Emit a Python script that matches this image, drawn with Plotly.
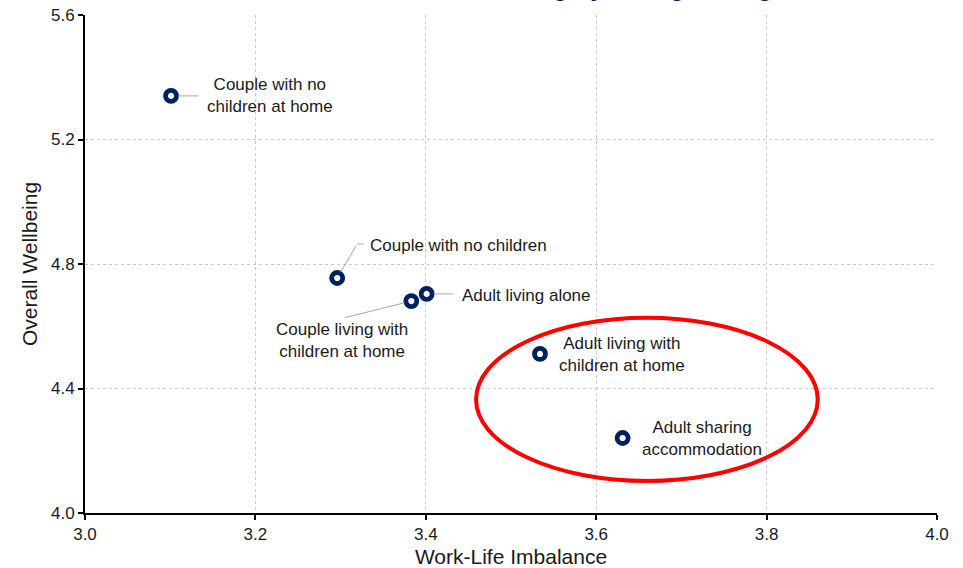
import plotly.graph_objects as go

# ---- data ----
groups = [
    "Couple with no children at home",
    "Couple with no children",
    "Adult living alone",
    "Couple living with children at home",
    "Adult living with children at home",
    "Adult sharing accommodation",
]
label_texts = [
    "Couple with no<br>children at home",
    "Couple with no children",
    "Adult living alone",
    "Couple living with<br>children at home",
    "Adult living with<br>children at home",
    "Adult sharing<br>accommodation",
]
work_life_imbalance = [3.101, 3.296, 3.401, 3.383, 3.534, 3.631]
overall_wellbeing = [5.340, 4.755, 4.704, 4.681, 4.511, 4.241]
x_ticks = [3.0, 3.2, 3.4, 3.6, 3.8, 4.0]
y_ticks = [4.0, 4.4, 4.8, 5.2, 5.6]
highlight_x = [3.459, 3.860]
highlight_y = [4.103, 4.627]

NAVY = "#002060"
LEADER = "#a6a6a6"
FONT = "Liberation Sans, Arial, sans-serif"

fig = go.Figure()
fig.add_trace(go.Scatter(
    x=work_life_imbalance, y=overall_wellbeing, mode="markers",
    text=groups, hoverinfo="text",
    marker=dict(symbol="circle", size=11, color="white",
                line=dict(color=NAVY, width=4.8)),
    showlegend=False, cliponaxis=False,
))

# label placement (pixel offsets from each point)
label_cfg = [
    dict(xshift=99, yshift=0, xanchor="center", align="center"),
    dict(xshift=31, yshift=33, xanchor="left", align="left"),
    dict(xshift=33, yshift=-2, xanchor="left", align="left"),
    dict(xshift=-69, yshift=-39, xanchor="center", align="center"),
    dict(xshift=82, yshift=-1, xanchor="center", align="center"),
    dict(xshift=79, yshift=-1, xanchor="center", align="center"),
]
# leader lines: (ax, ay) pixel offsets of the line end from the point
leaders = [(29, 0), (20, -34), (28, 0), (-68, 17), None, None]

annotations = []
for i in range(len(groups)):
    c = label_cfg[i]
    annotations.append(dict(
        x=work_life_imbalance[i], y=overall_wellbeing[i], xref="x", yref="y",
        text=label_texts[i], showarrow=False,
        xshift=c["xshift"], yshift=c["yshift"], xanchor=c["xanchor"],
        yanchor="middle", align=c["align"],
        font=dict(family=FONT, size=17, color="#1a1a1a"),
    ))
    if leaders[i] is not None:
        ax, ay = leaders[i]
        annotations.append(dict(
            x=work_life_imbalance[i], y=overall_wellbeing[i], xref="x", yref="y",
            text="", showarrow=True, arrowhead=0, arrowwidth=1,
            arrowcolor=LEADER, ax=ax, ay=ay, standoff=7,
        ))
# horizontal tail of the bent leader for "Couple with no children"
annotations.append(dict(
    x=work_life_imbalance[1], y=overall_wellbeing[1], xref="x", yref="y",
    text="", showarrow=True, arrowhead=0, arrowwidth=1, arrowcolor=LEADER,
    ax=8, ay=0, xshift=20, yshift=34, standoff=0,
))

# clipped title at the very top
annotations.append(dict(
    x=(146 - 85) / 852, y=1, xref="paper", yref="paper",
    text="<b>Work-Life Imbalance and Wellbeing by Living Arrangement</b>",
    showarrow=False, xanchor="left", yanchor="bottom", yshift=12,
    font=dict(family=FONT, size=25, color=NAVY),
))

fig.add_shape(type="circle", xref="x", yref="y",
              x0=highlight_x[0], x1=highlight_x[1],
              y0=highlight_y[0], y1=highlight_y[1],
              line=dict(color="#ff0000", width=4), layer="above")

axis_common = dict(
    showgrid=True, gridcolor="#c8c8c8", griddash="3px,3px", gridwidth=1,
    showline=True, linecolor="black", linewidth=2,
    ticks="outside", ticklen=5, tickcolor="black", tickwidth=1.5,
    zeroline=False, tickformat=".1f", automargin=False,
    tickfont=dict(family=FONT, size=17, color="#1a1a1a"),
)

fig.update_layout(
    width=963, height=568,
    margin=dict(l=85, r=26, t=15, b=55),
    plot_bgcolor="white", paper_bgcolor="white",
    annotations=annotations,
    xaxis=dict(range=[3.0, 4.0], tickvals=x_ticks,
               title=dict(text="Work-Life Imbalance", standoff=6,
                          font=dict(family=FONT, size=21, color="#1a1a1a")),
               **axis_common),
    yaxis=dict(range=[4.0, 5.6], tickvals=y_ticks,
               title=dict(text="Overall Wellbeing", standoff=8,
                          font=dict(family=FONT, size=21, color="#1a1a1a")),
               **axis_common),
)

fig.write_html("out.html", config={"displayModeBar": False},
               post_script="document.body.style.margin='0';")
